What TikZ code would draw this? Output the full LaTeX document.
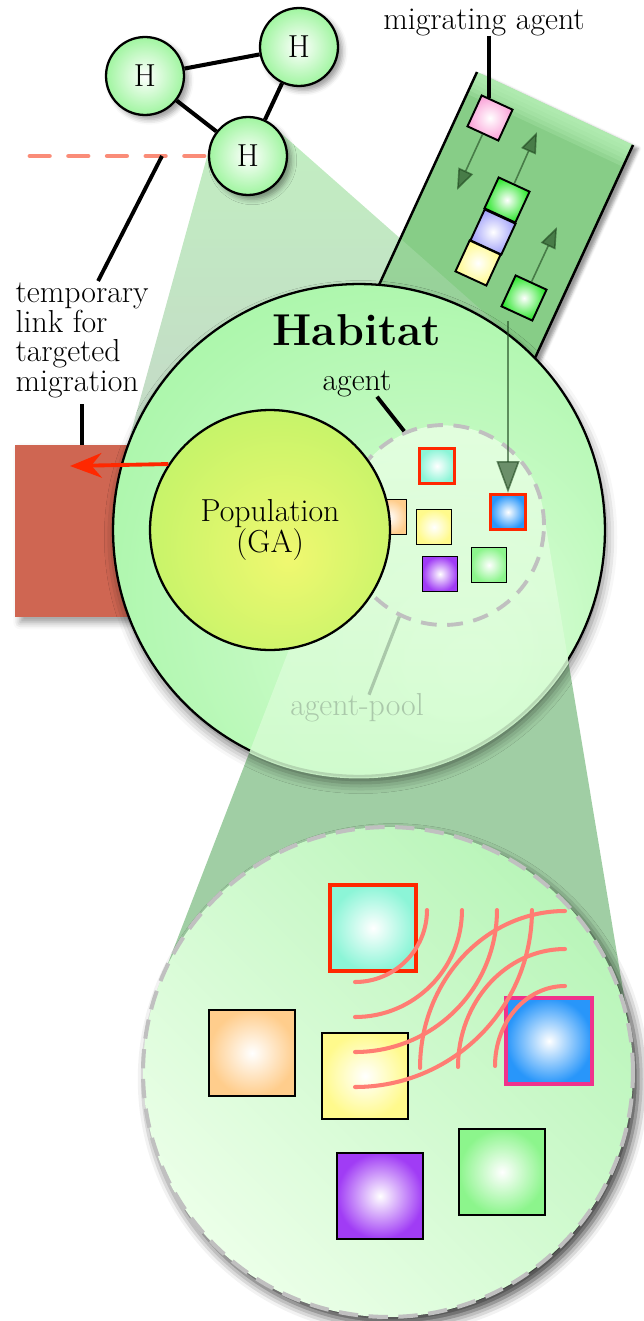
\documentclass[tikz,border=0pt]{standalone}
\usepackage{tikz}
\usetikzlibrary{arrows,arrows.meta,shapes,positioning,shadows,shadows.blur,calc}
\usepackage{xcolor}
\definecolor{hgreen}{RGB}{160,245,160}
\definecolor{habwhite}{RGB}{232,255,228}
\definecolor{popyellow}{RGB}{240,248,112}
\definecolor{popgreen}{RGB}{165,240,100}
\definecolor{conetop}{RGB}{160,230,160}
\definecolor{conebottom}{RGB}{165,195,170}
\definecolor{conegreen}{RGB}{120,185,125}
\definecolor{bandgreen}{RGB}{135,205,135}
\definecolor{bandlight}{RGB}{190,245,190}
\definecolor{boxred}{RGB}{207,102,82}
\definecolor{boxtop}{RGB}{242,140,118}
\definecolor{selred}{RGB}{255,40,0}
\definecolor{selpink}{RGB}{240,50,140}
\definecolor{linksalmon}{RGB}{250,140,120}
\definecolor{arcsalmon}{RGB}{255,125,115}
\definecolor{poolgray}{RGB}{192,192,192}
\definecolor{poolgreen}{RGB}{170,200,170}
\definecolor{arrowgreen}{RGB}{30,70,30}
\definecolor{acyan}{RGB}{140,245,215}
\definecolor{ablue}{RGB}{40,150,250}
\definecolor{aorange}{RGB}{255,205,140}
\definecolor{ayellow}{RGB}{255,250,140}
\definecolor{apurple}{RGB}{160,60,245}
\definecolor{agreen}{RGB}{140,245,140}
\definecolor{apink}{RGB}{250,160,215}
\definecolor{bblue}{RGB}{160,160,250}
\definecolor{bgreen}{RGB}{40,230,40}
\definecolor{zoomgreen}{RGB}{185,245,185}
\definecolor{zoomlight}{RGB}{235,255,232}
\pgfdeclareradialshading{habshade}{\pgfpoint{12bp}{-14bp}}{color(0bp)=(habwhite); color(12bp)=(habwhite!60!hgreen); color(40bp)=(hgreen); color(50bp)=(hgreen)}
\pgfdeclareradialshading{popshade}{\pgfpoint{4bp}{-6bp}}{color(0bp)=(popyellow); color(50bp)=(popgreen)}
\pgfdeclareverticalshading{boxshade}{100bp}{color(0bp)=(boxred); color(88bp)=(boxred); color(100bp)=(boxtop)}
\tikzstyle{hnode} = [circle, draw, line width=1.3pt, minimum size=1.56cm, inner sep=0pt, inner color=white, outer color=hgreen, blur shadow={shadow xshift=2.5pt, shadow yshift=-2.5pt, shadow blur radius=3pt}]
\tikzstyle{hlink} = [line width=2.3pt]
\tikzstyle{callout} = [line width=2.2pt]
\tikzstyle{agent} = [rectangle, draw, line width=1.1pt, minimum size=0.7cm, inner sep=0pt, inner color=white]
\tikzstyle{bandagent} = [agent, minimum size=0.68cm, rotate=-24.7]
\tikzstyle{bigagent} = [rectangle, draw, line width=1.5pt, minimum size=1.72cm, inner sep=0pt, inner color=white]
\tikzstyle{picked} = [draw=selred, line width=2pt]
\tikzstyle{migarrow} = [draw=arrowgreen, opacity=0.6, line width=0.9pt, -{Triangle[width=9pt,length=12pt]}]
\tikzstyle{wave} = [arcsalmon, line width=2.3pt, line cap=round]

\begin{document}
\begin{tikzpicture}[x=0.02cm, y=-0.02cm, font=\fontsize{18.1}{16.8}\selectfont]
\useasboundingbox (0,0) rectangle (644,1321);

% Migration channel
\fill[bandgreen, blur shadow={shadow xshift=3pt, shadow yshift=-2pt}] (477,72) -- (633,145) -- (466,508) -- (310,435) -- cycle;
\foreach \d in {4,8,...,24}
  \fill[bandlight, opacity=0.22] (477,72) -- (633,145) -- ($(633,145)+(-0.418*\d,0.908*\d)$) -- ($(477,72)+(-0.418*\d,0.908*\d)$) -- cycle;

% Zoom cones
\shade[top color=conetop, middle color=conebottom, bottom color=conebottom, opacity=0.65] (210,146) -- (122,465) -- (522,346) -- (274,127) -- cycle;
\fill[conegreen, opacity=0.7] (351,489) -- (160,984) -- (630,1032) -- (543,509) -- cycle;

\draw[line width=1.4pt] (477,72) -- (310,435);
\draw[line width=1.4pt] (633,145) -- (466,508);

% Other population
\node[rectangle, minimum width=2.5cm, minimum height=3.44cm, shade, shading=boxshade, blur shadow={shadow xshift=3pt, shadow yshift=-3pt, shadow blur radius=4pt}] (extpop) at (77.5,531) {};

% Habitat network
\node[hnode] (h1) at (145,76) {H};
\node[hnode] (h2) at (299,47) {H};
\node[hnode] (h3) at (248,156) {H};
\draw[hlink] (h1) -- (h2);
\draw[hlink] (h1) -- (h3);
\draw[hlink] (h2) -- (h3);

\coordinate (linkend) at (30,156);
\coordinate (linkpt) at (162,156);
\draw[linksalmon, line width=2.8pt, line cap=round, dash pattern=on 11pt off 11pt] (linkend) -- (h3);

\node[anchor=north west, align=left] (templbl) at (9.4,277) {temporary\\link for\\targeted\\migration};
\draw[callout] (linkpt) -- ($(templbl.north)+(16,4)$);
\draw[callout] (templbl.south) -- (templbl.south |- extpop.north);

% Habitat
\node[circle, draw, line width=1.3pt, minimum size=9.84cm, shade, shading=habshade, blur shadow={shadow xshift=1pt, shadow yshift=-4pt, shadow blur radius=6pt, shadow opacity=50}] (hab) at (359,530) {};
\node[anchor=base, font=\fontsize{25.4}{28}\selectfont\bfseries] (habtext) at (357,345) {Habitat};

\begin{scope}
\clip (hab.center) circle[radius=4.97cm];
\shade[top color=habwhite, bottom color=habwhite!50!hgreen, opacity=0.85] (351,489) -- (160,984) -- (630,1032) -- (543,509) arc[start angle=9.45, end angle=158.85, radius=2cm] -- cycle;
\end{scope}

% Agent-pool and population
\node[circle, draw=poolgray, line width=2.2pt, dash pattern=on 9pt off 6pt, minimum size=4cm] (pool) at (444,525) {};
\node[agent, outer color=aorange] (horange) at (389,517) {};
\node[circle, draw, line width=1.3pt, minimum size=4.8cm, shade, shading=popshade, align=center] (pop) at (270,530) {Population\\(GA)};
\coordinate (outlet) at (70,466);
\draw[selred, line width=2.2pt, -{Stealth[length=18pt,width=14pt]}] (pop.147.8) -- (outlet);

\node[agent, picked, outer color=acyan] (hcyan) at (437,466) {};
\node[agent, picked, outer color=ablue] (hblue) at (508,512) {};
\node[agent, outer color=ayellow] (hyellow) at (434,527) {};
\node[agent, outer color=apurple] (hpurple) at (440,574) {};
\node[agent, outer color=agreen] (hgreenag) at (489,565) {};

\node[anchor=base] (agentlbl) at (357,390) {agent};
\draw[callout] ($(agentlbl.south)+(20,-6)$) -- (pool.113);
\node[anchor=base, text=poolgreen] (poollbl) at (357,715) {agent-pool};
\draw[poolgreen, line width=1.8pt] ($(poollbl.north)+(12,8)$) -- (pool.244);

% Migrating agents
\node[bandagent, outer color=apink] (bpink) at (490,118) {};
\node[bandagent, outer color=bgreen] (bgreen1) at (507,200) {};
\node[bandagent, outer color=bblue] (bblue) at (493,232) {};
\node[bandagent, outer color=ayellow] (byellow) at (478,263) {};
\node[bandagent, outer color=bgreen] (bgreen2) at (524,298) {};

\coordinate (down1) at (457,190);
\coordinate (up1) at (537,132);
\coordinate (up2) at (557,227);
\draw[migarrow] (bpink) -- (down1);
\draw[migarrow] (bgreen1) -- (up1);
\draw[migarrow] (bgreen2) -- (up2);
\draw[migarrow, -{Triangle[width=13pt,length=18pt]}, shorten <=4pt] (hblue.north |- bgreen2.south) -- (hblue.north);

\node[anchor=base] (migtext) at (484,30) {migrating agent};
\coordinate (pinktop) at ($(bpink.north west)!0.5!(bpink.north)$);
\draw[callout, shorten <=-4pt] (pinktop |- migtext.south) -- (pinktop);

% Zoom on the agent-pool
\node[circle, draw=poolgray, line width=2.3pt, dash pattern=on 11pt off 6pt, minimum size=9.8cm, top color=zoomgreen, bottom color=zoomlight, shading angle=-45, blur shadow={shadow xshift=3pt, shadow yshift=-4pt, shadow blur radius=6pt, shadow opacity=80}] (zoomc) at (388,1072) {};

\node[bigagent, picked, line width=2.6pt, outer color=acyan] (zcyan) at (373,928) {};
\node[bigagent, outer color=aorange] (zorange) at (252,1053) {};
\node[bigagent, outer color=ayellow] (zyellow) at (365,1076) {};
\node[bigagent, draw=selpink, line width=2.6pt, outer color=ablue] (zblue) at (549,1041) {};
\node[bigagent, outer color=apurple] (zpurple) at (380,1196) {};
\node[bigagent, outer color=agreen] (zgreen) at (502,1172) {};

\draw[wave] (355,982) arc[start angle=270, end angle=360, radius=1.44cm];
\draw[wave] (355,1017) arc[start angle=270, end angle=360, radius=2.14cm];
\draw[wave] (355,1052) arc[start angle=270, end angle=360, radius=2.84cm];
\draw[wave] (355,1087) arc[start angle=270, end angle=360, radius=3.54cm];
\draw[wave] (565,911) arc[start angle=90, end angle=180, x radius=2.9cm, y radius=3.14cm];
\draw[wave] (565,949) arc[start angle=90, end angle=180, x radius=2.14cm, y radius=2.36cm];
\draw[wave] (565,986) arc[start angle=90, end angle=180, x radius=1.4cm, y radius=1.6cm];
\end{tikzpicture}
\end{document}
